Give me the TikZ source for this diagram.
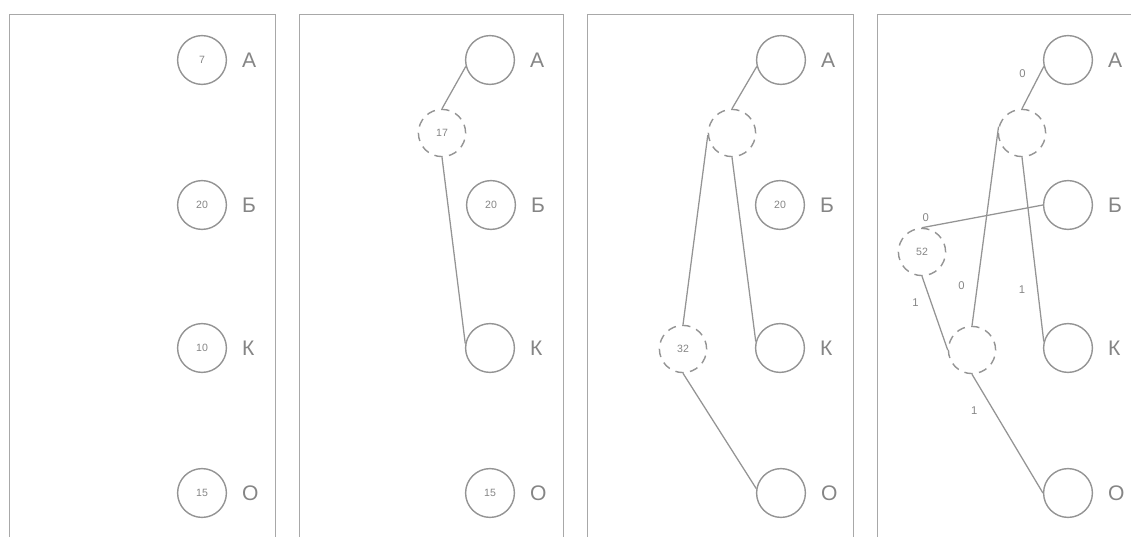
\documentclass[tikz,border=0pt]{standalone}
\usepackage{fontspec}
\setmainfont{Liberation Sans}
\usetikzlibrary{positioning}
\definecolor{edgegray}{gray}{0.58}
\definecolor{textgray}{gray}{0.52}
\definecolor{framegray}{gray}{0.66}

\begin{document}
\begin{tikzpicture}[
        x=0.025cm, y=-0.025cm,
        % Global Styles
        leaf/.style={circle, draw=edgegray, line width=1pt, minimum size=1.22cm, inner sep=0pt, font=\fontsize{7.5}{8}\selectfont, text=textgray},
        merged/.style={leaf, minimum size=1.18cm, dash pattern=on 6pt off 4.5pt},
        letter/.style={inner sep=0pt, font=\fontsize{15}{18}\selectfont, text=textgray},
        bit/.style={inner sep=0pt, font=\fontsize{8}{9}\selectfont, text=textgray},
        link/.style={draw=edgegray, line width=0.9pt},
        frame/.style={draw=framegray, line width=0.7pt}
    ]
    \useasboundingbox (0,0) rectangle (1131,537);

    % --- Panel frames ---
    \foreach \l/\r in {9/275, 299/563, 587/853}
        \draw [frame] (\l,537) |- (\r,14) -- (\r,537);
    \draw [frame] (877,537) |- (1131,14);

    % --- Panel 1: the four letters ---
    \node (A1) [leaf] at (202,60) {7};
    \node (B1) [leaf] at (202,205) {20};
    \node (K1) [leaf] at (202,348) {10};
    \node (O1) [leaf] at (202,493) {15};
    \foreach \n/\t in {A1/А, B1/Б, K1/К, O1/О}
        \node [letter, right=0.37cm of \n] {\t};

    % --- Panel 2: A + K ---
    \node (A2) [leaf] at (490,60) {};
    \node (M2) [merged] at (442,133) {17};
    \node (B2) [leaf] at (491,205) {20};
    \node (K2) [leaf] at (490,348) {};
    \node (O2) [leaf] at (490,493) {15};
    \foreach \n/\t in {A2/А, B2/Б, K2/К, O2/О}
        \node [letter, right=0.37cm of \n] {\t};

    \draw [link] (A2.195) -- (M2.north);
    \draw [link] (M2.south) -- (K2.170);

    % --- Panel 3: (A + K) + O ---
    \node (A3) [leaf] at (781,60) {};
    \node (M3) [merged] at (732,133) {};
    \node (B3) [leaf] at (780,205) {20};
    \node (K3) [leaf] at (780,348) {};
    \node (N3) [merged] at (683,349) {32};
    \node (O3) [leaf] at (781,493) {};
    \foreach \n/\t in {A3/А, B3/Б, K3/К, O3/О}
        \node [letter, right=0.37cm of \n] {\t};

    \draw [link] (A3.195) -- (M3.north);
    \draw [link] (M3.south) -- (K3.165);
    \draw [link] (N3.north) -- (M3.185);
    \draw [link] (N3.south) -- (O3.170);

    % --- Panel 4: full tree with code bits ---
    \node (A4) [leaf] at (1068,60) {};
    \node (M4) [merged] at (1022,133) {};
    \node (B4) [leaf] at (1068,205) {};
    \node (R4) [merged] at (922,252) {52};
    \node (K4) [leaf] at (1068,348) {};
    \node (N4) [merged] at (972,350) {};
    \node (O4) [leaf] at (1068,493) {};
    \foreach \n/\t in {A4/А, B4/Б, K4/К, O4/О}
        \node [letter, right=0.37cm of \n] {\t};

    \draw [link] (A4.195) -- node [bit, pos=0.16, left=0.35cm] {0} (M4.north);
    \draw [link] (B4.west) -- node [bit, pos=0.97, above=0.12cm] {0} (R4.north);
    \draw [link] (R4.south) -- node [bit, pos=0.36, left=0.3cm] {1} (N4.west);
    \draw [link] (M4.165) -- node [bit, pos=0.8, left=0.3cm] {0} (N4.north);
    \draw [link] (M4.south) -- node [bit, pos=0.72, left=0.3cm] {1} (K4.165);
    \draw [link] (N4.south) -- node [bit, pos=0.31, left=0.4cm] {1} (O4.west);

\end{tikzpicture}
\end{document}
